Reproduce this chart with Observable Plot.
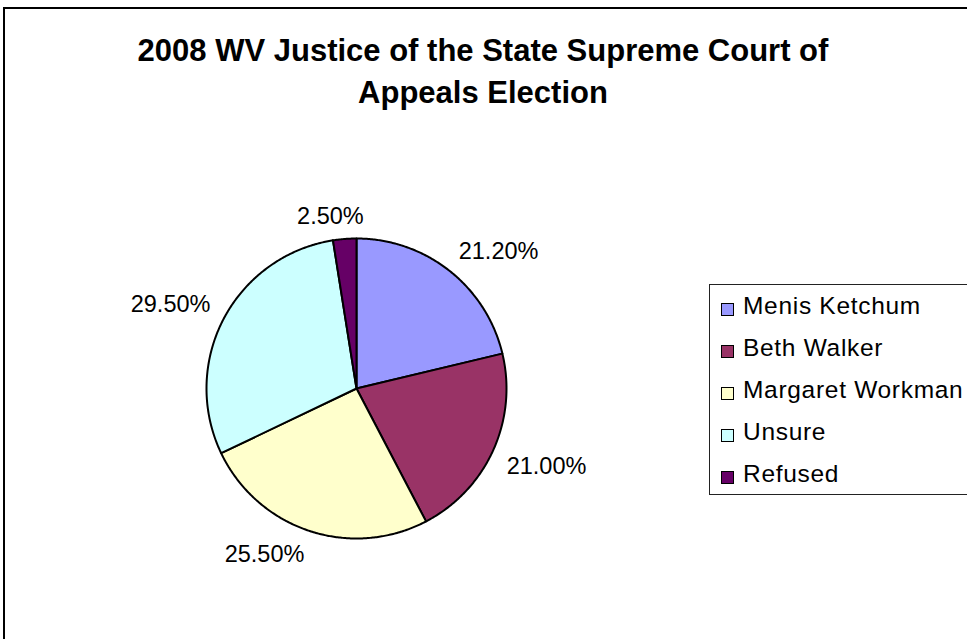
<!DOCTYPE html>
<html>
<head>
<meta charset="utf-8">
<script src="https://cdn.jsdelivr.net/npm/d3@7"></script>
<script src="https://cdn.jsdelivr.net/npm/@observablehq/plot@0.6"></script>
<style>
html, body { margin: 0; padding: 0; background: #fff; }
#wrap { position: relative; width: 967px; height: 639px; overflow: hidden; font-family: "Liberation Sans", Arial, sans-serif; color: #000; }
#frame { position: absolute; left: 3px; top: 7px; width: 1200px; height: 1200px; border-left: 2px solid #000; border-top: 2px solid #000; }
#chart { position: absolute; left: 0; top: 0; }
#title { position: absolute; left: 4px; width: 958px; top: 30px; text-align: center; font-weight: bold; font-size: 31px; line-height: 42px; }
#legend { position: absolute; left: 709px; top: 284px; width: 300px; height: 211px; border: 1px solid #222; box-sizing: border-box; padding-top: 10px; }
.item { position: relative; height: 42px; }
.sw { position: absolute; left: 11px; top: 8px; width: 13px; height: 13px; border: 1.5px solid #000; box-sizing: border-box; }
.lab { position: absolute; left: 33px; top: -1px; font-size: 24.5px; line-height: 24px; letter-spacing: 0.7px; white-space: nowrap; }
</style>
</head>
<body>
<div id="wrap">
  <div id="frame"></div>
  <div id="chart"></div>
  <div id="title">2008 WV Justice of the State Supreme Court of<br>Appeals Election</div>
  <div id="legend"></div>
</div>
<script>
// ---- data ----
const names = ["Menis Ketchum", "Beth Walker", "Margaret Workman", "Unsure", "Refused"];
const values = [21.2, 21.0, 25.5, 29.5, 2.5];
const labels = ["21.20%", "21.00%", "25.50%", "29.50%", "2.50%"];
const colors = ["#9999FF", "#993366", "#FFFFCC", "#CCFFFF", "#660066"];

// ---- layout ----
const W = 967, H = 639;
const cx = 356, cy = 388, R = 150;   // pie centre and radius in pixels
const fontFamily = '"Liberation Sans", Arial, sans-serif';
const labelSize = 23.5;

const total = d3.sum(values);
let acc = 0;
const slices = values.map((v, i) => {
  const a0 = acc / total * 2 * Math.PI;
  acc += v;
  const a1 = acc / total * 2 * Math.PI;
  return {name: names[i], label: labels[i], a0, a1};
});

// polygon points for each slice (unit radius, y up, clockwise from 12 o'clock)
const pts = [];
slices.forEach(s => {
  pts.push({name: s.name, x: 0, y: 0});
  const n = Math.max(2, Math.ceil((s.a1 - s.a0) / (Math.PI / 360)));
  for (let k = 0; k <= n; k++) {
    const a = s.a0 + (s.a1 - s.a0) * k / n;
    pts.push({name: s.name, x: Math.sin(a), y: Math.cos(a)});
  }
  pts.push({name: s.name, x: 0, y: 0});
});

// outside-end label placement (in data units)
const ctx = document.createElement("canvas").getContext("2d");
ctx.font = `${labelSize}px ${fontFamily}`;
const clamp = v => Math.max(-1, Math.min(1, v));
const rl = 165 / R, hh = 8.5 / R;
const lab = slices.map(s => {
  const m = (s.a0 + s.a1) / 2;
  const dx = Math.sin(m), dy = Math.cos(m);
  const hw = ctx.measureText(s.label).width / 2 / R;
  return {
    label: s.label,
    x: rl * dx + hw * clamp(5 * dx),
    y: rl * dy + hh * clamp(5 * dy)
  };
});

const plot = Plot.plot({
  width: W,
  height: H,
  margin: 0,
  x: {domain: [-cx / R, (W - cx) / R], axis: null},
  y: {domain: [-(H - cy) / R, cy / R], axis: null},
  color: {domain: names, range: colors},
  style: {background: "transparent", fontFamily, overflow: "visible"},
  marks: [
    Plot.line(pts, {x: "x", y: "y", z: "name", fill: "name", stroke: "#000", strokeWidth: 2, curve: "linear", strokeLinejoin: "round"}),
    Plot.text(lab, {x: "x", y: "y", text: "label", fontSize: labelSize, fill: "#000", textAnchor: "middle", lineAnchor: "middle", dy: 1})
  ]
});
document.getElementById("chart").appendChild(plot);

// legend
const leg = document.getElementById("legend");
names.forEach((n, i) => {
  const item = document.createElement("div");
  item.className = "item";
  const sw = document.createElement("div");
  sw.className = "sw";
  sw.style.background = colors[i];
  const t = document.createElement("div");
  t.className = "lab";
  t.textContent = n;
  item.appendChild(sw);
  item.appendChild(t);
  leg.appendChild(item);
});
</script>
</body>
</html>
